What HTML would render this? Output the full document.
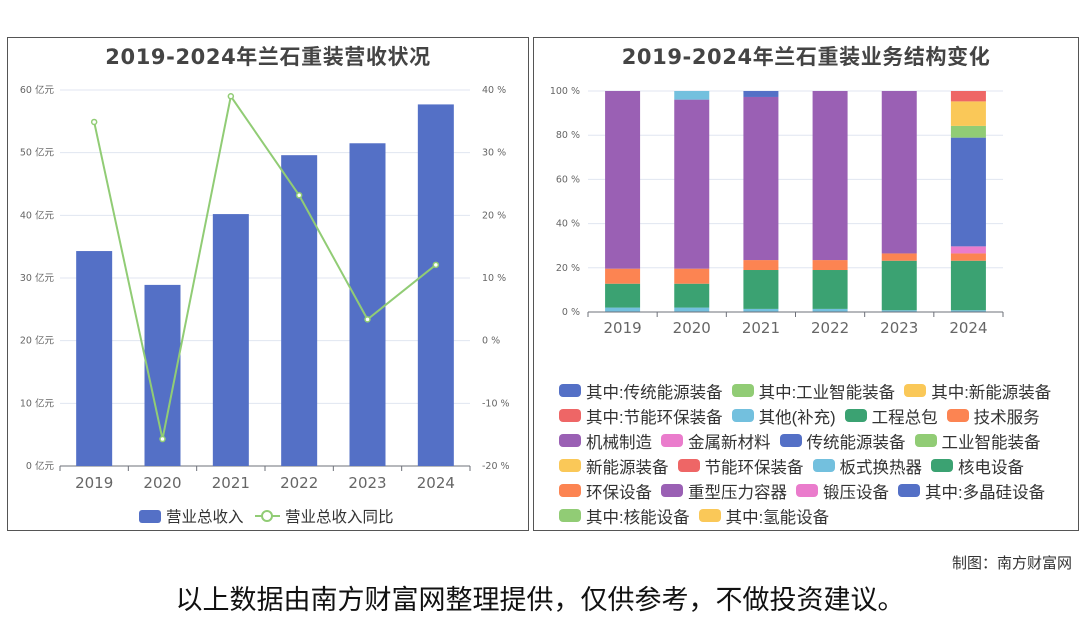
<!DOCTYPE html>
<html><head><meta charset="utf-8">
<style>
body{margin:0;width:1080px;height:614px;background:#fff;font-family:"Liberation Sans","Noto Sans CJK SC",sans-serif;position:relative;overflow:hidden}
.panel{position:absolute;border:1px solid #555;background:#fff}
.title{position:absolute;left:0;right:0;top:3px;text-align:center;font-weight:bold;font-size:21px;letter-spacing:0.6px;color:#444;font-family:"DejaVu Sans","Noto Sans CJK SC",sans-serif}
svg{position:absolute;left:0;top:0}
.lg{position:absolute;left:559px;top:378px;width:520px;font-size:16.5px;color:#333}
.row{display:flex;height:25px;align-items:center}
.it{display:flex;align-items:center;margin-right:9px}
.sw{width:22px;height:13px;border-radius:4px;margin-right:5px}
</style></head><body>
<div class="panel" style="left:7px;top:37px;width:520px;height:492px"><div class="title">2019-2024年兰石重装营收状况</div></div>
<div class="panel" style="left:533px;top:37px;width:544px;height:492px"><div class="title">2019-2024年兰石重装业务结构变化</div></div>
<svg id="s" width="1080" height="614"></svg>
<div class="lg" id="lg"></div>
<div style="position:absolute;right:8px;top:552px;font-size:15px;color:#333">制图：南方财富网</div>
<div style="position:absolute;left:0;right:0;top:578px;text-align:center;font-size:27px;color:#111">以上数据由南方财富网整理提供，仅供参考，不做投资建议。</div>
<script>
const years=["2019","2020","2021","2022","2023","2024"];
const revenue=[34.3,28.9,40.2,49.6,51.5,57.7];
const growth=[34.9,-15.7,39.0,23.2,3.4,12.1];
const leftTicks=["0 亿元","10 亿元","20 亿元","30 亿元","40 亿元","50 亿元","60 亿元"];
const rightTicks=["-20 %","-10 %","0 %","10 %","20 %","30 %","40 %"];
const pctTicks=["0 %","20 %","40 %","60 %","80 %","100 %"];
const stackNames=["其他(补充)","工程总包","技术服务","机械制造","金属新材料","传统能源装备","工业智能装备","新能源装备","节能环保装备","板式换热器"];
const stackColors=["#73c0de","#3ba272","#fc8452","#9a60b4","#ea7ccc","#5470c6","#91cc75","#fac858","#ee6666","#73c0de"];
const sOther=[2,2,1.4,1.4,0.8,0.8];
const sEng=[10.8,10.8,17.6,17.6,22.4,22.4];
const sTech=[6.8,6.8,4.5,4.5,3.3,3.3];
const sMach=[80.4,76.5,73.8,76.5,73.5,0];
const sMetal=[0,0,0,0,0,3.2];
const sTrad=[0,0,2.7,0,0,49.2];
const sInd=[0,0,0,0,0,5.3];
const sNew=[0,0,0,0,0,11.1];
const sSave=[0,0,0,0,0,4.7];
const sPlate=[0,3.9,0,0,0,0];
const stackVals=[sOther,sEng,sTech,sMach,sMetal,sTrad,sInd,sNew,sSave,sPlate];
const legendRows=[
[["其中:传统能源装备","#5470c6"],["其中:工业智能装备","#91cc75"],["其中:新能源装备","#fac858"]],
[["其中:节能环保装备","#ee6666"],["其他(补充)","#73c0de"],["工程总包","#3ba272"],["技术服务","#fc8452"]],
[["机械制造","#9a60b4"],["金属新材料","#ea7ccc"],["传统能源装备","#5470c6"],["工业智能装备","#91cc75"]],
[["新能源装备","#fac858"],["节能环保装备","#ee6666"],["板式换热器","#73c0de"],["核电设备","#3ba272"]],
[["环保设备","#fc8452"],["重型压力容器","#9a60b4"],["锻压设备","#ea7ccc"],["其中:多晶硅设备","#5470c6"]],
[["其中:核能设备","#91cc75"],["其中:氢能设备","#fac858"]]];
const S=document.getElementById('s');const NS="http://www.w3.org/2000/svg";
const TF='"DejaVu Sans","Noto Sans CJK SC",sans-serif';
function mk(t,a,txt){const e=document.createElementNS(NS,t);for(const k in a)e.setAttribute(k,a[k]);if(txt!=null)e.textContent=txt;S.appendChild(e);return e;}
const L0=60,L1=470,T=90,B=466;
const yL=v=>B-v/60*(B-T), yR=v=>B-(v+20)/60*(B-T);
const cw=(L1-L0)/6, xc=i=>L0+cw*(i+0.5);
for(let i=0;i<7;i++){const y=B-i*(B-T)/6;
 if(i>0){const g=mk('line',{x1:L0,x2:L1,y1:y,y2:y,stroke:'#e0e6f1'});}
 const t=mk('text',{x:L0-6,y:y+3,'text-anchor':'end','font-size':9.5,fill:'#666','font-family':TF},leftTicks[i]);
 const r=mk('text',{x:L1+12,y:y+3,'font-size':9.5,fill:'#666','font-family':TF},rightTicks[i]);}
mk('line',{x1:L0,x2:L1,y1:B,y2:B,stroke:'#6e7079'});
years.forEach((y,i)=>{mk('line',{x1:L0+cw*i,x2:L0+cw*i,y1:B,y2:B+5,stroke:'#6e7079'});
 const b=mk('rect',{x:xc(i)-18,y:yL(revenue[i]),width:36,height:B-yL(revenue[i]),fill:'#5470c6'});
 
 const t=mk('text',{x:xc(i),y:B+22,'text-anchor':'middle','font-size':15,fill:'#666','font-family':TF},y);});
mk('line',{x1:L1,x2:L1,y1:B,y2:B+5,stroke:'#6e7079'});
const ln=mk('polyline',{points:growth.map((v,i)=>xc(i)+','+yR(v)).join(' '),fill:'none',stroke:'#91cc75','stroke-width':2});

growth.forEach((v,i)=>{const c=mk('circle',{cx:xc(i),cy:yR(v),r:2.5,fill:'#fff',stroke:'#91cc75','stroke-width':1.5});});
let r1=mk('rect',{x:139,y:510,width:22,height:13,rx:3,fill:'#5470c6'});
mk('text',{x:166,y:522,'font-size':15.5,fill:'#333'},'营业总收入');
mk('line',{x1:255,x2:280,y1:516,y2:516,stroke:'#91cc75','stroke-width':2});
mk('circle',{cx:267,cy:516,r:5,fill:'#fff',stroke:'#91cc75','stroke-width':2});
let t2=mk('text',{x:285,y:522,'font-size':15.5,fill:'#333'},'营业总收入同比');
const R0=588,R1=1003,RT=91,RB=312;const rw=(R1-R0)/6,rx=i=>R0+rw*(i+0.5);const yP=v=>RB-v/100*(RB-RT);
for(let i=0;i<6;i++){const y=yP(i*20);
 if(i>0)mk('line',{x1:R0,x2:R1,y1:y,y2:y,stroke:'#e0e6f1'});
 const t=mk('text',{x:R0-8,y:y+3,'text-anchor':'end','font-size':9.5,fill:'#666','font-family':TF},pctTicks[i]);}
years.forEach((y,i)=>{let acc=0;stackVals.forEach((arr,k)=>{const v=arr[i];if(v>0){const r=mk('rect',{x:rx(i)-17.5,y:yP(acc+v),width:35,height:yP(acc)-yP(acc+v),fill:stackColors[k]});
 }acc+=v;});
 mk('line',{x1:R0+rw*i,x2:R0+rw*i,y1:RB,y2:RB+5,stroke:'#6e7079'});
 const t=mk('text',{x:rx(i),y:RB+21,'text-anchor':'middle','font-size':15,fill:'#666','font-family':TF},y);});
mk('line',{x1:R0,x2:R1,y1:RB,y2:RB,stroke:'#6e7079'});mk('line',{x1:R1,x2:R1,y1:RB,y2:RB+5,stroke:'#6e7079'});
const lg=document.getElementById('lg');
legendRows.forEach(row=>{const d=document.createElement('div');d.className='row';
 row.forEach(([n,c])=>{const it=document.createElement('div');it.className='it';
  
  
  it.innerHTML='<div class="sw" style="background:'+c+'"></div>'+n;d.appendChild(it);});lg.appendChild(d);});
</script>
</body></html>
